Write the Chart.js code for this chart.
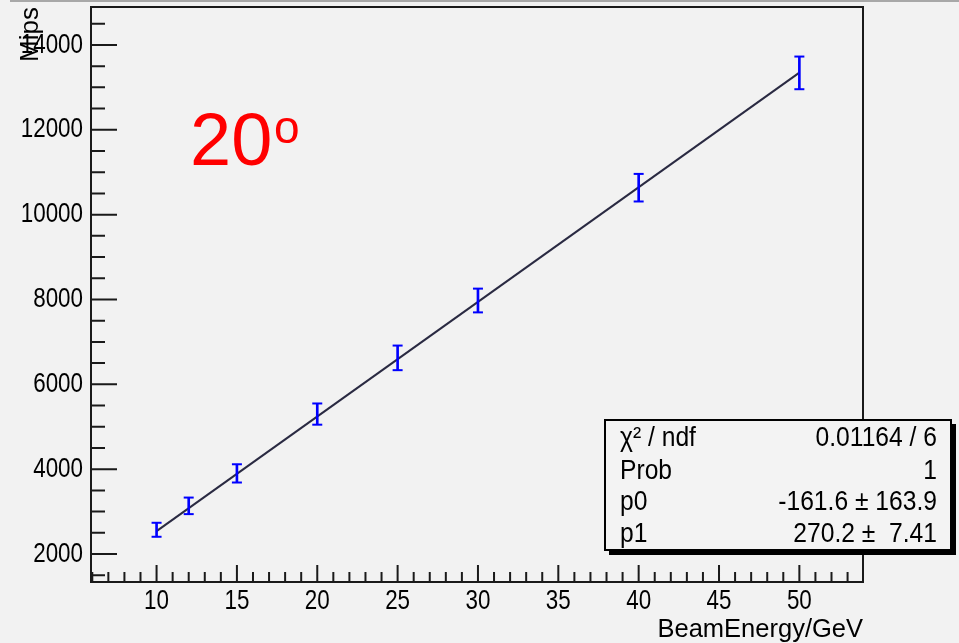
<!DOCTYPE html>
<html>
<head>
<meta charset="utf-8">
<script src="https://cdn.jsdelivr.net/npm/chart.js@4/dist/chart.umd.min.js"></script>
<style>
  html, body { margin: 0; padding: 0; background: #f2f2f2; }
  #wrap { width: 959px; height: 643px; position: relative; }
</style>
</head>
<body>
<div id="wrap"><canvas id="c" width="959" height="643"></canvas></div>
<script>
// ---- data ----
const beamEnergy = [10, 12, 15, 20, 25, 30, 40, 50];
const mips       = [2572, 3136, 3901, 5299, 6624, 7976, 10635, 13341];
const mipsErr    = [165, 195, 215, 250, 290, 280, 325, 385];
const fitX       = [10, 50];
const fitY       = [2540, 13348];
const xTickValues = [10, 15, 20, 25, 30, 35, 40, 45, 50];
const yTickValues = [2000, 4000, 6000, 8000, 10000, 12000, 14000];
const statsLabels = ['\u03C7\u00B2 / ndf', 'Prob', 'p0', 'p1'];
const statsValues = ['0.01164 / 6', '1', '-161.6 \u00B1 163.9', '270.2 \u00B1  7.41'];
const angleLabel = '20';
const angleSup = 'o';
const xTitle = 'BeamEnergy/GeV';
const yTitle = 'Mips';

// "Narrow" family is rendered as horizontally condensed Liberation Sans
const NARROW = "'Liberation Sans Narrow','Liberation Sans',Arial,sans-serif";
const SANS = "'Liberation Sans',Arial,Helvetica,sans-serif";
const NARROW_FACTOR = 0.8;

function installNarrowText(ctx) {
  if (ctx.__narrowInstalled) return;
  ctx.__narrowInstalled = true;
  const orig = ctx.fillText;
  ctx.__origFillText = orig;
  ctx.fillText = function (text, x, y, maxWidth) {
    if (this.font.indexOf('Narrow') >= 0) {
      this.save();
      this.translate(x, y);
      this.scale(NARROW_FACTOR, 1);
      if (maxWidth !== undefined) orig.call(this, text, 0, 0, maxWidth / NARROW_FACTOR);
      else orig.call(this, text, 0, 0);
      this.restore();
    } else if (maxWidth !== undefined) {
      orig.call(this, text, x, y, maxWidth);
    } else {
      orig.call(this, text, x, y);
    }
  };
}

function fillCondensed(ctx, text, x, y, factor) {
  ctx.save();
  ctx.translate(x, y);
  ctx.scale(factor, 1);
  ctx.fillText(text, 0, 0);
  ctx.restore();
}

const rootStyle = {
  id: 'rootStyle',
  beforeInit(chart) { installNarrowText(chart.ctx); },
  beforeDraw(chart) {
    const ctx = chart.ctx;
    ctx.save();
    ctx.fillStyle = '#f2f2f2';
    ctx.fillRect(0, 0, chart.width, chart.height);
    ctx.strokeStyle = '#a8a8a8';
    ctx.lineWidth = 2;
    ctx.beginPath(); ctx.moveTo(10, 1); ctx.lineTo(chart.width, 1); ctx.stroke();
    ctx.restore();
  },
  afterDraw(chart) {
    const {ctx, chartArea: a, scales: {x, y}} = chart;
    ctx.save();
    // frame
    ctx.strokeStyle = '#1a1a1a';
    ctx.lineWidth = 2;
    ctx.strokeRect(a.left, a.top, a.right - a.left, a.bottom - a.top);
    // x ticks (inside)
    ctx.beginPath();
    for (let v = Math.ceil(x.min); v <= x.max; v++) {
      const px = x.getPixelForValue(v);
      const len = (v % 5 === 0) ? 17 : 10;
      ctx.moveTo(px, a.bottom); ctx.lineTo(px, a.bottom - len);
    }
    // y ticks (inside)
    for (let v = Math.ceil(y.min / 500) * 500; v <= y.max; v += 500) {
      const py = y.getPixelForValue(v);
      const len = (v % 2000 === 0) ? 26 : 14;
      ctx.moveTo(a.left, py); ctx.lineTo(a.left + len, py);
    }
    ctx.stroke();

    // angle annotation
    ctx.fillStyle = '#ff0000';
    ctx.textBaseline = 'alphabetic';
    ctx.textAlign = 'left';
    ctx.font = '74px ' + SANS;
    ctx.fillText(angleLabel, 190, 165);
    ctx.font = '46px ' + SANS;
    ctx.fillText(angleSup, 274, 143);

    // stats box
    const bx = 605, by = 420, bw = 346, bh = 130;
    ctx.fillStyle = '#000';
    ctx.fillRect(bx + 4, by + 4, bw + 1, bh + 1);
    ctx.fillStyle = '#f3f3f3';
    ctx.fillRect(bx, by, bw, bh);
    ctx.strokeStyle = '#000';
    ctx.lineWidth = 2;
    ctx.strokeRect(bx, by, bw, bh);
    ctx.fillStyle = '#000';
    ctx.font = '28px ' + SANS;
    const base = [446, 479, 510, 542];
    for (let i = 0; i < statsLabels.length; i++) {
      ctx.textAlign = 'left';
      fillCondensed(ctx, statsLabels[i], 620, base[i], 0.88);
      ctx.textAlign = 'right';
      fillCondensed(ctx, statsValues[i], 937, base[i], 0.88);
    }
    ctx.restore();
  }
};

const plain = v => String(v);

new Chart(document.getElementById('c'), {
  type: 'scatter',
  data: {
    datasets: [
      {
        type: 'line',
        label: 'fit',
        data: fitX.map((v, i) => ({x: v, y: fitY[i]})),
        borderColor: '#2a2a42',
        borderWidth: 2,
        pointRadius: 0,
        fill: false,
        order: 3
      },
      {
        type: 'bar',
        label: 'error',
        data: beamEnergy.map((v, i) => ({x: v, y: [mips[i] - mipsErr[i], mips[i] + mipsErr[i]]})),
        backgroundColor: '#0000ff',
        borderWidth: 0,
        barThickness: 2,
        order: 2
      },
      {
        type: 'scatter',
        label: 'caps',
        data: beamEnergy.flatMap((v, i) => [{x: v, y: mips[i] - mipsErr[i]}, {x: v, y: mips[i] + mipsErr[i]}]),
        pointStyle: 'line',
        pointRadius: 5,
        borderColor: '#0000ff',
        borderWidth: 2,
        order: 1
      },
      {
        type: 'scatter',
        label: 'Mips',
        data: beamEnergy.map((v, i) => ({x: v, y: mips[i]})),
        pointRadius: 0,
        order: 0
      }
    ]
  },
  options: {
    responsive: false,
    animation: false,
    events: [],
    layout: { padding: { left: 0, right: 96, top: 6, bottom: 0 } },
    plugins: { legend: { display: false }, tooltip: { enabled: false } },
    scales: {
      x: {
        type: 'linear',
        min: 5.92,
        max: 53.96,
        offset: false,
        grid: { display: false, drawTicks: false },
        border: { display: false },
        afterBuildTicks(scale) { scale.ticks = xTickValues.map(v => ({value: v})); },
        afterFit(scale) { scale.height = 61; scale.paddingLeft = 0; scale.paddingRight = 0; },
        ticks: {
          autoSkip: false,
          maxRotation: 0,
          padding: 5,
          color: '#000',
          callback: plain,
          font: { family: NARROW, size: 28, lineHeight: 1 }
        },
        title: {
          display: true,
          text: xTitle,
          align: 'end',
          color: '#000',
          font: { family: SANS, size: 25.5, lineHeight: 1 },
          padding: { top: 3, bottom: 0 }
        }
      },
      y: {
        type: 'linear',
        min: 1341,
        max: 14894,
        grid: { display: false, drawTicks: false },
        border: { display: false },
        afterBuildTicks(scale) { scale.ticks = yTickValues.map(v => ({value: v})); },
        afterFit(scale) { scale.width = 91; scale.paddingTop = 0; scale.paddingBottom = 0; },
        ticks: {
          autoSkip: false,
          padding: 8,
          color: '#000',
          callback: plain,
          font: { family: NARROW, size: 28, lineHeight: 1 }
        },
        title: {
          display: true,
          text: yTitle,
          align: 'end',
          color: '#000',
          font: { family: SANS, size: 26, lineHeight: 1 },
          padding: { top: 18, bottom: 0 }
        }
      }
    }
  },
  plugins: [rootStyle]
});
</script>
</body>
</html>
